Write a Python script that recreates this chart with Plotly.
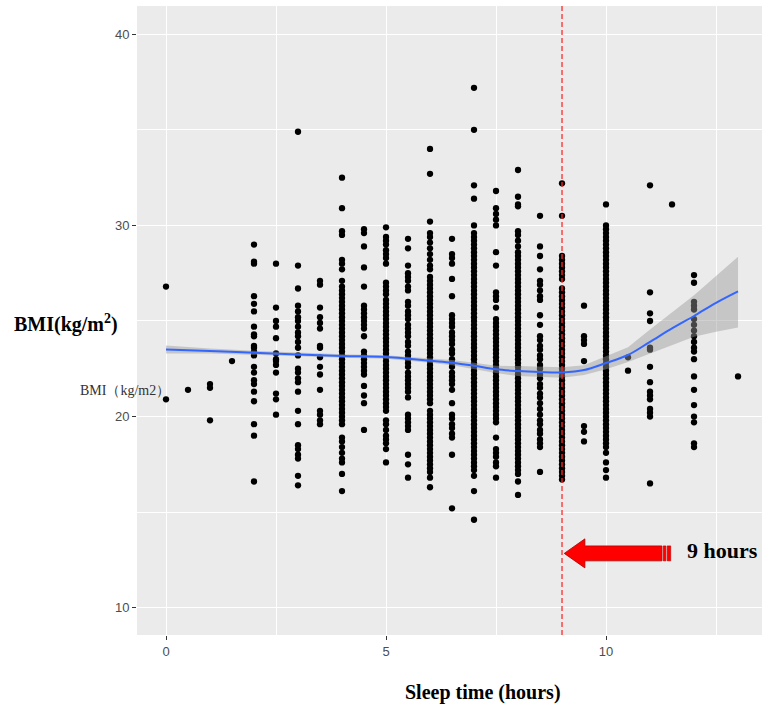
import plotly.graph_objects as go

# ---- data: BMI values observed at each sleep duration (hours) ----
sleep_hours = [0, 0.5, 1, 1.5, 2, 2.5, 3, 3.5, 4, 4.5, 5, 5.5, 6, 6.5, 7, 7.5, 8, 8.5,
               9, 9.5, 10, 10.5, 11, 11.5, 12, 13]

bmi_00 = [26.8, 20.9]
bmi_05 = [21.4]
bmi_10 = [21.7, 21.5, 19.8]
bmi_15 = [22.9]
bmi_20 = [29.0, 28.1, 28.0, 26.3, 25.9, 25.5, 24.7, 24.3, 24.2, 23.7, 23.6, 23.4, 23.2,
          22.6, 22.3, 21.9, 21.7, 21.3, 20.8, 19.6, 19.0, 16.6]
bmi_25 = [28.0, 25.7, 25.0, 24.7, 24.1, 23.3, 23.0, 22.9, 22.7, 22.3, 21.2, 20.9, 20.1]
bmi_30 = [34.9, 27.9, 26.7, 25.8, 25.5, 25.2, 25.0, 24.7, 24.4, 24.2, 23.9, 23.6, 23.2,
          22.5, 22.3, 22.0, 21.8, 21.3, 20.3, 19.6, 18.5, 18.3, 18.0, 17.8, 16.9, 16.4]
bmi_35 = [27.1, 26.9, 25.7, 25.2, 24.9, 24.6, 23.7, 23.6, 23.1, 22.6, 22.2, 21.4, 20.3,
          20.1, 19.8, 19.6]
bmi_40 = [32.5, 30.9, 29.7, 29.5, 28.2, 28.0, 27.7, 27.1, 26.8, 26.6, 26.4, 26.2, 26.0,
          25.8, 25.6, 25.4, 25.2, 25.0, 24.8, 24.6, 24.4, 24.2, 24.0, 23.8, 23.6, 23.4,
          23.2, 23.0, 22.8, 22.6, 22.4, 22.2, 22.0, 21.8, 21.6, 21.4, 21.2, 21.0, 20.8,
          20.6, 20.4, 20.2, 20.0, 19.8, 19.6, 18.9, 18.7, 18.4, 18.1, 17.8, 17.6, 17.0,
          16.1]
bmi_45 = [29.8, 29.6, 28.9, 27.8, 26.8, 25.8, 25.6, 25.4, 25.2, 25.0, 24.8, 24.6, 24.2,
          23.4, 23.2, 23.0, 22.8, 22.6, 22.4, 22.2, 21.6, 21.1, 20.7, 19.3]
bmi_50 = [29.9, 29.4, 29.2, 29.0, 28.7, 28.5, 28.3, 28.0, 27.0, 26.8, 26.6, 26.4, 26.1,
          25.9, 25.7, 25.5, 25.3, 25.1, 24.9, 24.7, 24.5, 24.3, 24.1, 23.9, 23.7, 23.5,
          23.3, 23.1, 22.9, 22.7, 22.5, 22.3, 22.1, 21.9, 21.7, 21.5, 21.3, 21.1, 20.9,
          20.7, 20.5, 20.3, 19.8, 19.6, 19.3, 19.0, 18.8, 18.6, 18.3, 17.6]
bmi_55 = [29.3, 28.8, 27.9, 27.5, 27.3, 27.1, 26.8, 26.6, 26.0, 25.8, 25.5, 25.3, 25.1,
          24.8, 24.6, 24.4, 24.2, 23.9, 23.7, 23.4, 23.2, 23.0, 22.8, 22.6, 22.3, 22.1,
          21.9, 21.7, 21.5, 21.3, 21.0, 20.1, 19.9, 19.7, 19.5, 19.3, 18.0, 17.5, 16.8]
bmi_60 = [34.0, 32.7, 30.2, 29.6, 29.4, 29.1, 28.8, 28.5, 28.2, 27.9, 27.7, 27.3, 27.1,
          26.9, 26.7, 26.5, 26.3, 26.1, 25.9, 25.7, 25.5, 25.3, 25.1, 24.9, 24.7, 24.5,
          24.3, 24.1, 23.9, 23.7, 23.5, 23.3, 23.1, 22.9, 22.7, 22.5, 22.3, 22.1, 21.9,
          21.7, 21.5, 21.3, 21.1, 20.9, 20.7, 20.3, 20.1, 19.9, 19.7, 19.5, 19.3, 19.1,
          18.9, 18.7, 18.5, 18.3, 18.1, 17.9, 17.7, 17.5, 17.3, 17.1, 16.8, 16.3]
bmi_65 = [29.3, 28.5, 28.3, 28.0, 27.2, 26.3, 25.3, 25.1, 24.9, 24.7, 24.4, 24.2, 24.0,
          23.8, 23.5, 23.3, 23.0, 22.8, 22.6, 22.3, 22.1, 21.9, 21.7, 21.4, 20.7, 20.1,
          19.9, 19.6, 19.4, 19.1, 18.9, 18.0, 15.2]
bmi_70 = [37.2, 35.0, 32.1, 31.4, 30.0, 29.6, 29.4, 29.2, 29.0, 28.8, 28.6, 28.4, 28.2,
          28.0, 27.8, 27.6, 27.4, 27.2, 27.0, 26.8, 26.6, 26.4, 26.2, 26.0, 25.8, 25.6,
          25.4, 25.2, 25.0, 24.8, 24.6, 24.4, 24.2, 24.0, 23.8, 23.6, 23.4, 23.2, 23.0,
          22.8, 22.6, 22.4, 22.2, 22.0, 21.8, 21.6, 21.4, 21.2, 21.0, 20.8, 20.6, 20.4,
          20.2, 20.0, 19.8, 19.6, 19.4, 19.2, 19.0, 18.8, 18.6, 18.4, 18.2, 18.0, 17.8,
          17.6, 17.4, 17.2, 16.9, 16.1, 14.6]
bmi_75 = [31.8, 30.9, 30.6, 30.3, 30.0, 28.6, 27.9, 26.5, 26.3, 26.1, 25.7, 25.1, 24.9,
          24.7, 24.5, 24.3, 24.1, 23.9, 23.7, 23.5, 23.3, 23.1, 22.9, 22.7, 22.5, 22.3,
          22.1, 21.9, 21.7, 21.5, 21.3, 21.1, 20.9, 20.7, 20.5, 20.3, 20.1, 19.9, 19.7,
          18.9, 18.3, 18.1, 17.9, 17.6, 17.4, 16.8]
bmi_80 = [32.9, 31.5, 31.1, 31.0, 29.7, 29.5, 29.2, 28.9, 28.6, 28.4, 28.2, 28.0, 27.8,
          27.6, 27.4, 27.2, 27.0, 26.8, 26.6, 26.4, 26.2, 26.0, 25.8, 25.6, 25.4, 25.2,
          25.0, 24.8, 24.6, 24.4, 24.2, 24.0, 23.8, 23.6, 23.4, 23.2, 23.0, 22.8, 22.6,
          22.4, 22.2, 22.0, 21.8, 21.6, 21.4, 21.2, 21.0, 20.8, 20.6, 20.4, 20.2, 20.0,
          19.8, 19.6, 19.4, 19.2, 19.0, 18.8, 18.6, 18.4, 18.2, 18.0, 17.8, 17.6, 17.4,
          17.2, 17.0, 16.6, 15.9]
bmi_85 = [30.5, 28.9, 28.4, 27.7, 27.1, 26.9, 26.6, 26.3, 26.1, 25.3, 24.8, 24.2, 24.0,
          23.7, 23.5, 23.2, 23.0, 22.7, 22.5, 22.2, 22.0, 21.7, 21.5, 21.2, 21.0, 20.7,
          20.4, 20.1, 19.8, 19.6, 19.3, 19.1, 18.8, 18.6, 18.4, 17.1]
bmi_90 = [32.2, 30.5, 28.4, 28.2, 28.0, 27.8, 27.6, 27.4, 27.2, 26.7, 26.5, 26.3, 26.1,
          25.9, 25.7, 25.5, 25.3, 25.1, 24.9, 24.7, 24.5, 24.3, 24.1, 23.9, 23.7, 23.5,
          23.3, 23.1, 22.9, 22.7, 22.5, 22.3, 22.1, 21.9, 21.7, 21.5, 21.3, 21.1, 20.9,
          20.7, 20.5, 20.3, 20.1, 19.9, 19.7, 19.5, 19.3, 19.1, 18.9, 18.7, 18.5, 18.3,
          18.1, 17.9, 17.7, 17.5, 17.3, 17.1, 16.9, 16.7]
bmi_95 = [25.8, 24.2, 24.0, 23.8, 22.9, 19.5, 19.2, 18.7]
bmi_100 = [31.1, 30.0, 29.8, 29.6, 29.4, 29.2, 29.0, 28.8, 28.6, 28.4, 28.2, 28.0, 27.8,
           27.6, 27.4, 27.2, 27.0, 26.8, 26.6, 26.4, 26.2, 26.0, 25.8, 25.6, 25.4, 25.2,
           25.0, 24.8, 24.6, 24.4, 24.2, 24.0, 23.8, 23.6, 23.4, 23.2, 23.0, 22.8, 22.6,
           22.4, 22.2, 22.0, 21.8, 21.6, 21.4, 21.2, 21.0, 20.8, 20.6, 20.4, 20.2, 20.0,
           19.8, 19.6, 19.4, 19.2, 19.0, 18.8, 18.6, 18.4, 18.1, 17.6, 17.2, 16.8]
bmi_105 = [23.1, 22.4]
bmi_110 = [32.1, 26.5, 25.4, 25.0, 23.6, 23.5, 22.6, 21.8, 21.3, 21.1, 20.9, 20.4, 20.2,
           20.0, 16.5]
bmi_115 = [31.1]
bmi_120 = [27.4, 27.0, 26.0, 25.8, 25.6, 25.1, 24.8, 24.5, 24.2, 23.9, 23.6, 23.4, 23.0,
           22.1, 21.4, 20.6, 20.0, 19.7, 18.6, 18.4]
bmi_130 = [22.1]

bmi_columns = [bmi_00, bmi_05, bmi_10, bmi_15, bmi_20, bmi_25, bmi_30, bmi_35, bmi_40,
               bmi_45, bmi_50, bmi_55, bmi_60, bmi_65, bmi_70, bmi_75, bmi_80, bmi_85,
               bmi_90, bmi_95, bmi_100, bmi_105, bmi_110, bmi_115, bmi_120, bmi_130]

# loess smooth and its confidence band
smooth_x = [0, 1, 2, 3, 4, 5, 5.5, 6, 6.5, 7, 7.5, 8, 8.5, 9, 9.5, 10, 10.5, 11, 11.5,
            12, 12.5, 13]
smooth_y = [23.51, 23.43, 23.34, 23.25, 23.17, 23.12, 23.03, 22.92, 22.82, 22.66, 22.47,
            22.38, 22.33, 22.31, 22.43, 22.80, 23.22, 23.91, 24.61, 25.26, 25.95, 26.55]
smooth_lo = [23.30, 23.30, 23.24, 23.16, 23.08, 23.03, 22.93, 22.81, 22.68, 22.50, 22.28,
             22.12, 22.06, 22.03, 22.18, 22.47, 22.86, 23.30, 23.74, 24.18, 24.44, 24.66]
smooth_hi = [23.72, 23.56, 23.44, 23.34, 23.26, 23.21, 23.13, 23.03, 22.96, 22.82, 22.66,
             22.64, 22.60, 22.58, 22.68, 23.15, 23.62, 24.55, 25.45, 26.35, 27.35, 28.36]

cutoff_hours = 9
tick_x = [0, 5, 10]
tick_y = [10, 20, 30, 40]

# ---- build figure ----
xs, ys = [], []
for h, col in zip(sleep_hours, bmi_columns):
    xs += [h] * len(col)
    ys += col

fig = go.Figure()
fig.add_trace(go.Scatter(x=xs, y=ys, mode="markers",
                         marker=dict(color="black", size=6.3, line=dict(width=0)),
                         hoverinfo="skip", showlegend=False))
fig.add_trace(go.Scatter(x=smooth_x + smooth_x[::-1], y=smooth_hi + smooth_lo[::-1],
                         fill="toself", fillcolor="rgba(153,153,153,0.45)",
                         line=dict(width=0), mode="lines", hoverinfo="skip",
                         showlegend=False))
fig.add_trace(go.Scatter(x=smooth_x, y=smooth_y, mode="lines",
                         line=dict(color="#3366FF", width=2, shape="spline"),
                         hoverinfo="skip", showlegend=False))

# dashed cutoff line
fig.add_shape(type="line", xref="x", yref="paper", x0=cutoff_hours, x1=cutoff_hours,
              y0=0, y1=1, line=dict(color="#FF2A2A", width=1.3, dash="5px,3px"))

# red block arrow pointing to the cutoff
yc, hh, bh = 12.84, 0.76, 0.39
xt, xh, xb = 9.05, 9.52, 11.27
path = (f"M {xt},{yc} L {xh},{yc+hh} L {xh},{yc+bh} L {xb},{yc+bh} "
        f"L {xb},{yc-bh} L {xh},{yc-bh} L {xh},{yc-hh} Z")
fig.add_shape(type="path", path=path, xref="x", yref="y",
              fillcolor="#FF0000", line=dict(color="#B00000", width=0.8))
for a, b in [(11.30, 11.36), (11.39, 11.47)]:
    fig.add_shape(type="rect", xref="x", yref="y", x0=a, x1=b, y0=yc - bh, y1=yc + bh,
                  fillcolor="#FF0000", line=dict(color="#B00000", width=0.6))

fig.add_annotation(x=12.64, y=13.0, xref="x", yref="y", text="<b>9 hours</b>",
                   showarrow=False, font=dict(family="Liberation Serif", size=22,
                                              color="black"))

# titles as annotations
fig.add_annotation(xref="paper", yref="paper", x=(66 - 137) / 625, y=(635 - 323) / 629,
                   xanchor="center", yanchor="middle", text="<b>BMI(kg/m<sup>2</sup>)</b>",
                   showarrow=False, font=dict(family="Liberation Serif", size=20,
                                              color="black"))
fig.add_annotation(xref="paper", yref="paper", x=(125 - 137) / 625, y=(635 - 390) / 629,
                   xanchor="center", yanchor="middle", text="BMI（kg/m2）",
                   showarrow=False, font=dict(family="Liberation Serif", size=14,
                                              color="#333333"))
fig.add_annotation(xref="paper", yref="paper", x=(483 - 137) / 625, y=(635 - 692) / 629,
                   xanchor="center", yanchor="middle", text="<b>Sleep time (hours)</b>",
                   showarrow=False, font=dict(family="Liberation Serif", size=20,
                                              color="black"))

fig.update_layout(
    width=762, height=710,
    margin=dict(l=137, r=0, t=6, b=75),
    paper_bgcolor="white", plot_bgcolor="#EBEBEB",
    xaxis=dict(range=[-0.659, 13.545], tickvals=tick_x, ticks="outside", ticklen=4,
               tickcolor="#333333", tickwidth=1,
               tickfont=dict(family="Liberation Sans", size=13, color="#4D4D4D"),
               showgrid=True, gridcolor="white", gridwidth=1.4, zeroline=False,
               showline=False,
               minor=dict(tickvals=[2.5, 7.5, 12.5], showgrid=True, gridcolor="white",
                          gridwidth=0.7, ticks="")),
    yaxis=dict(range=[8.57, 41.48], tickvals=tick_y, ticks="outside", ticklen=4,
               tickcolor="#333333", tickwidth=1,
               tickfont=dict(family="Liberation Sans", size=13, color="#4D4D4D"),
               showgrid=True, gridcolor="white", gridwidth=1.4, zeroline=False,
               showline=False,
               minor=dict(tickvals=[15, 25, 35], showgrid=True, gridcolor="white",
                          gridwidth=0.7, ticks="")),
)

fig.write_html("out.html")
